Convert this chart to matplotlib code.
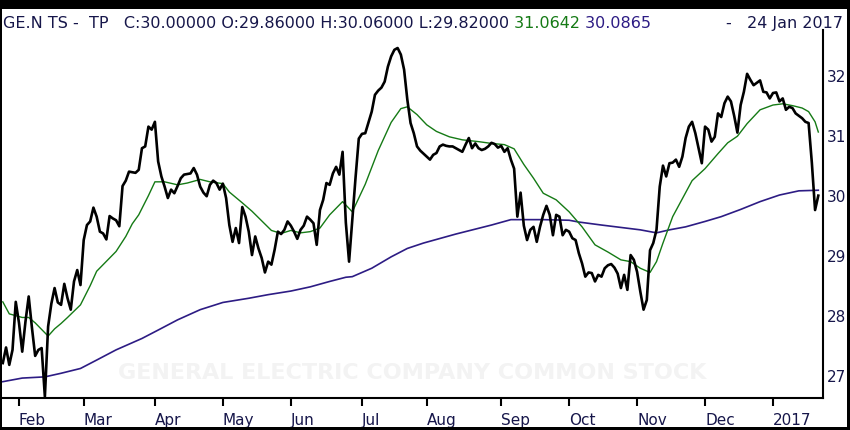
import matplotlib
matplotlib.use('Agg')
import matplotlib.pyplot as plt
from matplotlib.patches import Rectangle
import numpy as np
import pandas as pd


# trading sessions, 25 Jan 2016 .. 24 Jan 2017 (NYSE holidays removed)
start_date = '2016-01-25'
end_date = '2017-01-24'
holidays = ['2016-02-15', '2016-03-25', '2016-05-30', '2016-07-04', '2016-09-05',
            '2016-11-24', '2016-12-26', '2017-01-02', '2017-01-16']

# daily close, one value per session
close = [
    27.21, 27.47, 27.18, 27.43, 28.23, 27.88, 27.40, 27.90, 28.32, 27.80,
    27.33, 27.43, 27.46, 26.65, 27.82, 28.20, 28.46, 28.22, 28.18, 28.53,
    28.29, 28.10, 28.57, 28.76, 28.51, 29.26, 29.51, 29.57, 29.80, 29.65,
    29.40, 29.37, 29.27, 29.66, 29.62, 29.59, 29.49, 30.16, 30.25, 30.40,
    30.39, 30.38, 30.43, 30.79, 30.82, 31.15, 31.10, 31.23, 30.57, 30.32,
    30.15, 29.96, 30.10, 30.04, 30.16, 30.29, 30.35, 30.36, 30.37, 30.46,
    30.35, 30.15, 30.05, 29.99, 30.18, 30.25, 30.21, 30.10, 30.20, 29.96,
    29.51, 29.23, 29.46, 29.21, 29.81, 29.65, 29.40, 29.01, 29.32, 29.12,
    28.96, 28.72, 28.90, 28.85, 29.10, 29.40, 29.36, 29.43, 29.57, 29.50,
    29.40, 29.28, 29.43, 29.50, 29.65, 29.60, 29.54, 29.18, 29.76, 29.93,
    30.21, 30.18, 30.37, 30.48, 30.35, 30.73, 29.55, 28.90, 29.60, 30.30,
    30.95, 31.03, 31.04, 31.22, 31.40, 31.68, 31.75, 31.80, 31.90, 32.15,
    32.32, 32.43, 32.46, 32.35, 32.10, 31.60, 31.21, 31.04, 30.82, 30.75,
    30.70, 30.65, 30.60, 30.68, 30.71, 30.82, 30.85, 30.83, 30.82, 30.82,
    30.79, 30.76, 30.73, 30.85, 30.96, 30.79, 30.87, 30.79, 30.76, 30.78,
    30.82, 30.88, 30.86, 30.80, 30.83, 30.73, 30.79, 30.60, 30.45, 29.65,
    30.05, 29.50, 29.26, 29.43, 29.48, 29.23, 29.48, 29.68, 29.83, 29.68,
    29.34, 29.68, 29.65, 29.34, 29.43, 29.40, 29.29, 29.26, 29.04, 28.87,
    28.65, 28.72, 28.71, 28.57, 28.68, 28.65, 28.79, 28.84, 28.86, 28.80,
    28.70, 28.46, 28.68, 28.43, 29.01, 28.93, 28.73, 28.40, 28.10, 28.26,
    29.09, 29.21, 29.43, 30.15, 30.50, 30.32, 30.54, 30.55, 30.60, 30.48,
    30.65, 30.96, 31.15, 31.23, 31.04, 30.79, 30.54, 31.15, 31.10, 30.90,
    30.98, 31.37, 31.31, 31.54, 31.65, 31.57, 31.33, 31.05, 31.51, 31.73,
    32.03, 31.93, 31.84, 31.88, 31.92, 31.73, 31.72, 31.62, 31.71, 31.72,
    31.57, 31.62, 31.43, 31.48, 31.46, 31.37, 31.33, 31.29, 31.23, 31.21,
    30.55, 29.76, 30.00,
]

# 50 day average (green), read at these session numbers
ma50_day = [0, 2, 4, 6, 8, 10, 12, 14, 16, 18, 20, 24, 27, 29, 31, 35, 38, 40, 42, 45,
            47, 50, 54, 57, 61, 64, 68, 70, 74, 77, 80, 83, 86, 89, 92, 95, 98, 101, 105, 108,
            112, 116, 120, 123, 125, 128, 131, 134, 138, 142, 147, 151, 155, 158, 161, 164, 167, 171, 175, 179,
            183, 187, 191, 194, 197, 200, 202, 204, 207, 210, 213, 217, 221, 224, 227, 230, 234, 238, 241, 244,
            247, 249, 251, 252]
ma50 = [28.23, 28.03, 28.00, 27.97, 27.97, 27.88, 27.77, 27.66, 27.78, 27.87, 27.97, 28.18, 28.50, 28.74, 28.85, 29.07, 29.32, 29.53, 29.68, 30.00,
        30.23, 30.23, 30.18, 30.21, 30.27, 30.23, 30.20, 30.06, 29.88, 29.74, 29.58, 29.42, 29.37, 29.42, 29.38, 29.40, 29.46, 29.68, 29.90, 29.73,
        30.19, 30.75, 31.22, 31.45, 31.48, 31.35, 31.18, 31.07, 30.98, 30.93, 30.90, 30.87, 30.85, 30.78, 30.52, 30.29, 30.04, 29.93, 29.73, 29.48,
        29.18, 29.06, 28.93, 28.90, 28.79, 28.72, 28.90, 29.21, 29.65, 29.95, 30.25, 30.45, 30.70, 30.88, 30.99, 31.20, 31.43, 31.51, 31.53, 31.50,
        31.46, 31.40, 31.23, 31.06]

# 200 day average (navy)
ma200_day = [0, 6, 13, 18, 24, 29, 35, 43, 48, 54, 61, 68, 76, 82, 89, 95, 101, 106, 108, 114,
             120, 125, 130, 140, 151, 157, 161, 167, 175, 178, 185, 191, 197, 202, 206, 211, 217, 222, 228, 234,
             240, 246, 252]
ma200 = [26.90, 26.96, 26.98, 27.04, 27.12, 27.26, 27.43, 27.62, 27.76, 27.93, 28.10, 28.22, 28.29, 28.35, 28.41, 28.48, 28.57, 28.64, 28.65, 28.79,
         28.98, 29.12, 29.21, 29.36, 29.51, 29.60, 29.60, 29.60, 29.59, 29.56, 29.51, 29.47, 29.43, 29.38, 29.43, 29.48, 29.57, 29.65, 29.77, 29.90,
         30.01, 30.08, 30.09]

header = 'GE.N TS -  TP   C:30.00000 O:29.86000 H:30.06000 L:29.82000'
ma50_txt = '31.0642'
ma200_txt = '30.0865'
date_txt = '-   24 Jan 2017'
watermark = 'GENERAL ELECTRIC COMPANY COMMON STOCK'
yticks = [27, 28, 29, 30, 31, 32]

txt_col = '#16164a'
green = '#157a15'
navy = '#2d1c84'

sessions = pd.bdate_range(start_date, end_date, freq='C', holidays=holidays)
mkey = sessions.year * 12 + sessions.month
first = np.flatnonzero(np.r_[True, np.diff(mkey) != 0])
first = first[first > 0]
xlabels = ['2017' if sessions[i].month == 1 else sessions[i].strftime('%b') for i in first]

fig = plt.figure(figsize=(8.5, 4.3), dpi=100)
ax = fig.add_axes([2 / 850, 32 / 430, 821 / 850, 368 / 430])

ax.text(0.5, 0.067, watermark, transform=ax.transAxes, ha='center', va='center',
        fontsize=16, fontweight='bold', color='#f3f3f3', zorder=0)

ax.plot(ma200_day, ma200, color=navy, lw=1.2, zorder=2)
ax.plot(ma50_day, ma50, color=green, lw=1.0, zorder=3)
ax.plot(np.arange(len(close)), close, color='black', lw=1.9, zorder=4)

ax.set_xlim(-0.25, 253.45)
ax.set_ylim(26.628, 32.76)
for s in ['top', 'left']:
    ax.spines[s].set_visible(False)
for s in ['right', 'bottom']:
    ax.spines[s].set_linewidth(1.5)

ax.yaxis.tick_right()
ax.set_yticks(yticks)
ax.set_yticklabels([str(v) for v in yticks])
ax.tick_params(axis='y', length=0, pad=3, labelsize=11, labelcolor=txt_col)
ax.set_xticks(first)
ax.set_xticklabels(xlabels, ha='left')
ax.tick_params(axis='x', direction='out', length=5.5, width=1.5, pad=5,
               labelsize=11, labelcolor=txt_col)

# header line
t1 = fig.text(3 / 850, 1 - 28 / 430, header, fontsize=11.5, color=txt_col, va='baseline')
t2 = fig.text(0, 0, ' ' + ma50_txt, fontsize=11.5, color=green, va='baseline')
fig.canvas.draw()
r = fig.canvas.get_renderer()
bb = t1.get_window_extent(r)
t2.set_position((bb.x1 / 850, 1 - 28 / 430))
bb2 = t2.get_window_extent(r)
fig.text(bb2.x1 / 850, 1 - 28 / 430, ' ' + ma200_txt, fontsize=11.5, color=navy, va='baseline')
fig.text(843 / 850, 1 - 28 / 430, date_txt, fontsize=11.5, color=txt_col, va='baseline', ha='right')

# black frame round the picture
for (x0, y0, w, h) in [(0, 421, 850, 9), (0, 0, 2, 430), (847, 0, 3, 430), (0, 0, 850, 3)]:
    fig.add_artist(Rectangle((x0 / 850, y0 / 430), w / 850, h / 430, transform=fig.transFigure,
                             facecolor='black', edgecolor='none', zorder=10))

fig.savefig('out.png', dpi=100)
